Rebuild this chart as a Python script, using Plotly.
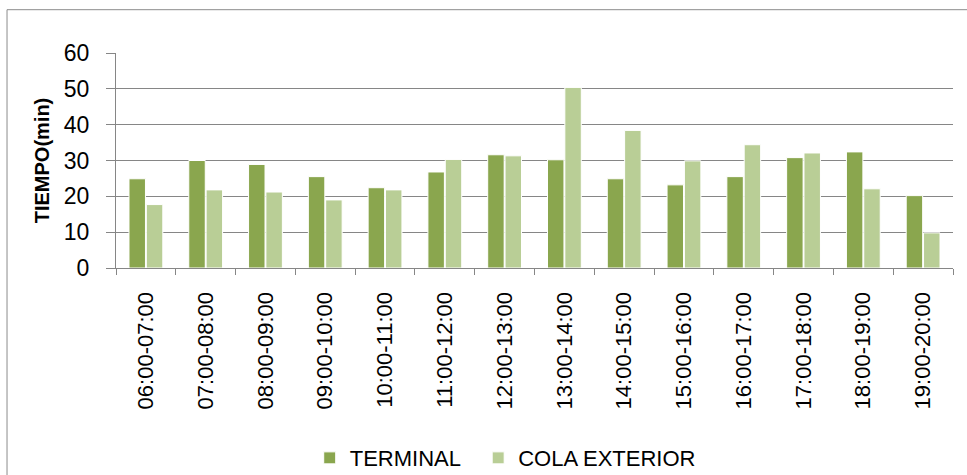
import plotly.graph_objects as go

categories = ["06:00-07:00", "07:00-08:00", "08:00-09:00", "09:00-10:00", "10:00-11:00",
              "11:00-12:00", "12:00-13:00", "13:00-14:00", "14:00-15:00", "15:00-16:00",
              "16:00-17:00", "17:00-18:00", "18:00-19:00", "19:00-20:00"]
terminal = [24.9, 30.0, 28.9, 25.5, 22.4, 26.8, 31.6, 30.2, 24.9, 23.2, 25.5, 30.8, 32.4, 20.2]
cola_exterior = [17.7, 21.8, 21.2, 19.0, 21.8, 30.3, 31.3, 50.4, 38.4, 29.9, 34.4, 32.1, 22.1, 9.8]
y_ticks = [0, 10, 20, 30, 40, 50, 60]

FONT = "Liberation Sans"
GRID = "#868686"

fig = go.Figure()
fig.add_trace(go.Bar(x=categories, y=terminal, name="TERMINAL\u00a0\u00a0",
                     marker=dict(color="#8AA64E", line=dict(color="white", width=1))))
fig.add_trace(go.Bar(x=categories, y=cola_exterior, name="COLA EXTERIOR",
                     marker=dict(color="#B9CE96", line=dict(color="white", width=1))))

fig.update_layout(
    width=967, height=475,
    margin=dict(l=116, r=14, t=53, b=207, autoexpand=False),
    paper_bgcolor="white", plot_bgcolor="white",
    barmode="group", bargap=0.42, bargroupgap=0.05,
    font=dict(family=FONT, color="black"),
    showlegend=True,
    legend=dict(orientation="h", x=0.465, xanchor="center", y=-0.884, yanchor="middle",
                font=dict(size=22, family=FONT, color="black"), bgcolor="rgba(0,0,0,0)",
                itemclick=False),
    xaxis=dict(
        type="category", tickangle=-90, tickson="boundaries",
        ticks="outside", ticklen=6, tickcolor=GRID, tickwidth=1.3,
        showline=True, linecolor=GRID, linewidth=1.3,
        showgrid=False, tickfont=dict(size=22, family=FONT, color="black"),
        ticklabelstandoff=14,
    ),
    yaxis=dict(
        range=[0, 60], tickvals=y_ticks, ticks="outside", ticklen=9,
        tickcolor=GRID, tickwidth=1.3,
        showline=True, linecolor=GRID, linewidth=1.3,
        showgrid=True, gridcolor=GRID, gridwidth=1.3, zeroline=False,
        tickfont=dict(size=23, family=FONT, color="black"),
        ticklabelstandoff=12,
        title=dict(text="<b>TIEMPO(min)</b>", font=dict(size=20, family=FONT, color="black"),
                   standoff=8),
    ),
    shapes=[dict(type="rect", xref="paper", yref="paper",
                 x0=-0.1302, x1=1.2, y0=-1.5, y1=1.2014,
                 line=dict(color="#8C8C8C", width=1), fillcolor="rgba(0,0,0,0)",
                 layer="below")],
)

fig.write_html("out.html",
               config={"displayModeBar": False},
               post_script="document.body.style.margin='0';document.body.style.overflow='hidden';")
